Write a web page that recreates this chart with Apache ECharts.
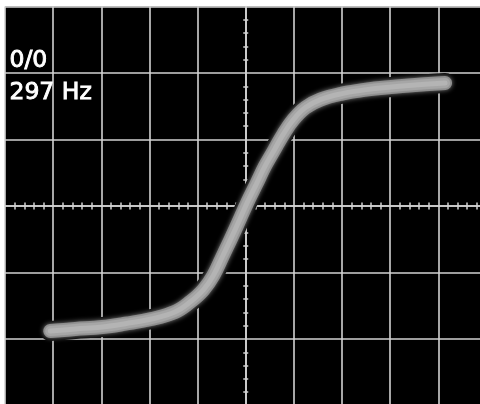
<!DOCTYPE html>
<html>
<head>
<meta charset="utf-8">
<script src="https://cdn.jsdelivr.net/npm/echarts@6/dist/echarts.min.js"></script>
<style>
html,body{margin:0;padding:0;background:#fff;overflow:hidden;}
#c{width:500px;height:420px;}
</style>
</head>
<body>
<div id="c"></div>
<script>
// Data (screen divisions): x deflection vs y deflection of the B-H trace
var traceX = [-4.06, -3.54, -2.98, -2.50, -1.96, -1.46, -1.15, -0.88, -0.67, -0.49, -0.32, -0.13, 0.03, 0.22, 0.40, 0.59, 0.78, 0.99, 1.24, 1.55, 2.00, 2.50, 3.02, 3.52, 4.14];
var traceY = [-1.88, -1.85, -1.82, -1.77, -1.70, -1.59, -1.44, -1.26, -1.04, -0.77, -0.51, -0.21, 0.05, 0.33, 0.60, 0.84, 1.08, 1.30, 1.48, 1.60, 1.69, 1.75, 1.79, 1.82, 1.85];
var xDivisions = [-5, 5];
var yDivisions = [-3, 3];
var labelLines = ['0/0', '297 Hz'];

var traceData = traceX.map(function (x, i) { return [x, traceY[i]]; });

var gridCol = '#d2d2d2';
function xAx(inside, split) {
  return {
    type: 'value', min: xDivisions[0], max: xDivisions[1], interval: 1, position: 'bottom',
    splitLine: { show: split, lineStyle: { color: gridCol, width: 1.6 } },
    axisLine: { show: split, onZero: true, onZeroAxisIndex: 0, lineStyle: { color: gridCol, width: 1.6 } },
    axisTick: { show: false, inside: inside },
    minorTick: { show: true, splitNumber: 5, length: 3.5, lineStyle: { color: gridCol, width: 1.5 } },
    minorSplitLine: { show: false },
    axisLabel: { show: false }
  };
}
function yAx(inside, split) {
  return {
    type: 'value', min: yDivisions[0], max: yDivisions[1], interval: 1, position: 'left',
    splitLine: { show: split, lineStyle: { color: gridCol, width: 1.6 } },
    axisLine: { show: split, onZero: true, onZeroAxisIndex: 0, lineStyle: { color: gridCol, width: 1.6 } },
    axisTick: { show: false, inside: inside },
    minorTick: { show: true, splitNumber: 5, length: 2.5, lineStyle: { color: gridCol, width: 1.5 } },
    minorSplitLine: { show: false },
    axisLabel: { show: false }
  };
}

var layers = [
  { w: 20, c: '#000000', blur: 0, sc: 'transparent' },
  { w: 14, c: '#8a8a8a', blur: 5, sc: 'rgba(140,140,140,0.9)' },
  { w: 10, c: '#a6a6a6', blur: 3, sc: 'rgba(170,170,170,0.8)' },
  { w: 5, c: '#b4b4b4', blur: 0, sc: 'transparent' }
];

var chart = echarts.init(document.getElementById('c'), null, { renderer: 'canvas' });
chart.setOption({
  backgroundColor: '#ffffff',
  animation: false,
  grid: { left: 5, top: 6.5, width: 481.5, height: 399, show: true, backgroundColor: '#000000', borderWidth: 0 },
  xAxis: [xAx(true, true), xAx(false, false)],
  yAxis: [yAx(true, true), yAx(false, false)],
  series: layers.map(function (l) {
    return {
      type: 'line', data: traceData, smooth: 0.4, showSymbol: false, silent: true,
      xAxisIndex: 0, yAxisIndex: 0,
      lineStyle: { width: l.w, color: l.c, cap: 'round', join: 'round', shadowBlur: l.blur, shadowColor: l.sc }
    };
  }),
  graphic: labelLines.map(function (t, i) {
    return {
      type: 'text', left: 9, top: 48 + i * 32, z: 100,
      style: { text: t, fill: '#ffffff', font: '23.5px "DejaVu Sans"', stroke: '#ffffff', lineWidth: 0.9 }
    };
  })
});
</script>
</body>
</html>
